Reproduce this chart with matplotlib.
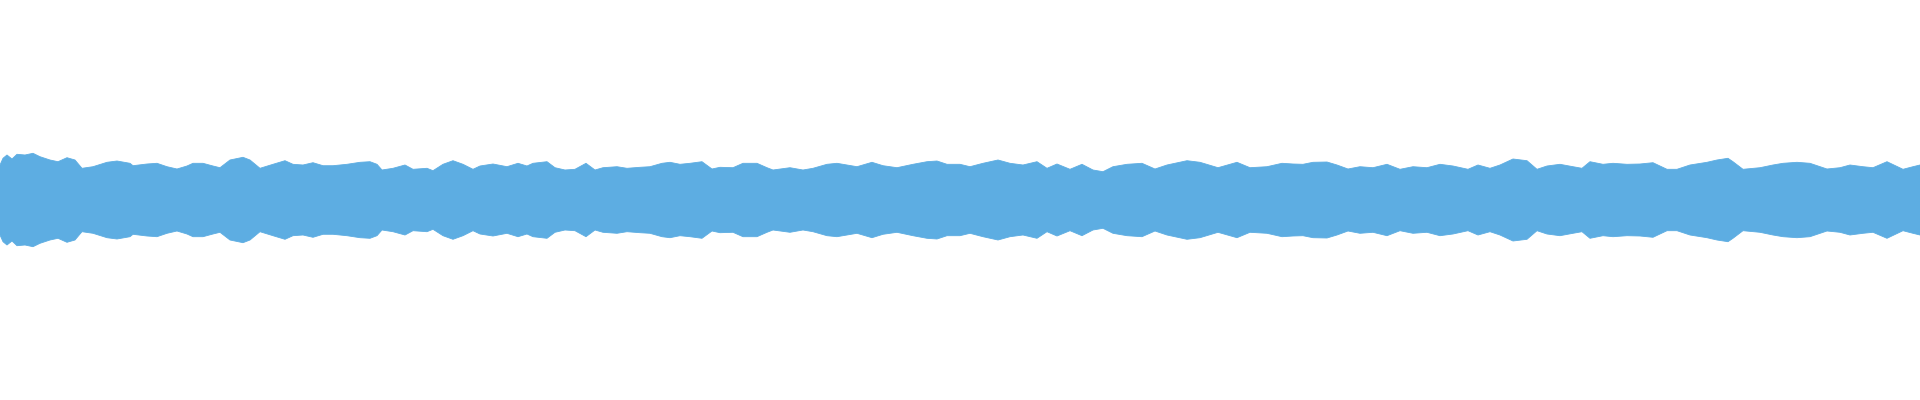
#!/usr/bin/env python3
# Waveform envelope strip (audio overview style)

import matplotlib
matplotlib.use("Agg")
import matplotlib.pyplot as plt
import numpy as np

# ============================================================================
# DATA: frame positions and peak amplitude (full scale = 200)
# ============================================================================
frames = [
    0, 3, 7, 12, 17, 25, 33, 40, 50, 58, 67, 75, 82, 93, 107, 117, 130, 133,
    147, 157, 167, 177, 187, 193, 203, 213, 220, 230, 243, 250, 260, 273, 285,
    293, 303, 313, 323, 333, 347, 360, 370, 377, 382, 393, 405, 413, 427, 433,
    443, 453, 463, 473,
    480, 493, 507, 518, 527, 533, 547, 555, 565, 575, 586, 595, 603, 617, 627,
    640, 650, 662, 670, 680, 690, 702, 712, 720, 733, 743, 757, 767, 773, 790,
    803, 813, 827, 837, 847, 857, 872, 883, 897, 913, 927, 937, 947,
    960, 970, 983, 998, 1010, 1023, 1037, 1047, 1057, 1070, 1082, 1093, 1103,
    1113, 1127, 1142, 1155, 1167, 1187, 1200, 1218, 1237, 1250, 1267, 1282,
    1293, 1303, 1313, 1327, 1337, 1348, 1360, 1373, 1387, 1400, 1413, 1427,
    1440, 1453, 1468, 1478, 1490, 1500, 1513, 1527, 1537, 1547, 1560, 1573,
    1582, 1590, 1603, 1613, 1627, 1640, 1653, 1667, 1677, 1690, 1707, 1717,
    1728, 1733, 1743, 1760, 1773, 1783, 1797, 1810, 1827, 1840, 1850, 1863,
    1873, 1887, 1903, 1913, 1920,
]

peak = [
    35, 41.7, 45, 41, 45.7, 45, 46.7, 43.3, 40, 38.3, 42.3, 40, 31.7, 33.3,
    37.7, 39, 36.7, 34.3, 36, 36.7, 33.3, 31, 34, 36.7, 36.7, 34, 32.3, 40,
    42.7, 40, 31.7, 35.7, 39.3, 35.7, 35, 37.3, 34.3, 34.3, 35.7, 37.7, 38.3,
    35.7, 30, 31.7, 35, 30.7, 31.7, 29.3, 35.7, 39.3, 35.7, 30.7,
    34, 36, 33.3, 36.7, 34, 36.7, 38.3, 32.3, 30, 30.7, 36.7, 30, 32.3, 33.3,
    31.7, 32.7, 33.3, 36.7, 37.7, 35.7, 36.7, 38.3, 31, 32.7, 32.3, 36.7,
    36.7, 32.3, 30, 32.3, 30, 31.7, 35.7, 36.7, 35, 33.3, 37.7, 34.3, 32.3,
    35.7, 38.3, 39, 35.7,
    35.7, 33.3, 36.7, 40, 36.7, 35, 38.3, 31.7, 36, 30.7, 35.7, 30, 28.3,
    33.3, 35.7, 36.7, 31, 35, 39.3, 37.7, 32.3, 37.7, 32.3, 33.3, 36.7, 36,
    35.7, 37.7, 38, 35, 31, 33.3, 32.3, 35.7, 30.7, 33.3, 32.3,
    35.7, 34, 30.7, 35, 31.7, 35, 41, 39.3, 30.7, 34, 35.7, 33.3, 31.7, 38.3,
    35.7, 36.7, 35.7, 36, 37.3, 30.7, 30.7, 35, 37.7, 40, 41.7, 38.3, 30.7,
    32.3, 35, 36.7, 37.7, 36.7, 31, 32.3, 35, 33.3, 32.3, 38.3, 30.7, 33.3, 35,
]

WAVE_COLOR = "#5DADE2"

# ============================================================================
# PLOT
# ============================================================================
x = np.array(frames)
amp = np.array(peak)

fig = plt.figure(figsize=(19.2, 4), dpi=100)
ax = fig.add_axes([0, 0, 1, 1])

ax.fill_between(x, -amp, amp, color=WAVE_COLOR, linewidth=0.6,
                edgecolor=WAVE_COLOR)

ax.set_xlim(0, 1920)
ax.set_ylim(-200, 200)
ax.axis('off')

plt.savefig("out.png", dpi=100, facecolor="white")
print("saved out.png")
